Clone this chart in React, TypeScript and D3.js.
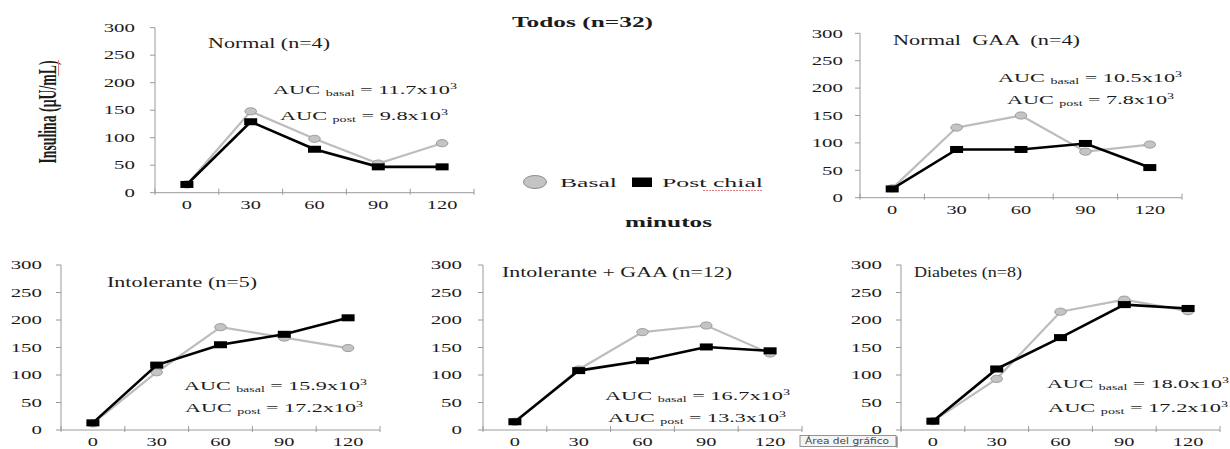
import React from "react";
import * as d3 from "d3";

// ---- data ----
const times = [0, 30, 60, 90, 120];
const yTicks = [0, 50, 100, 150, 200, 250, 300];

const normalBasal = [15, 148, 98, 53, 90];
const normalPost = [15, 129, 79, 47, 47];
const normalGaaBasal = [17, 128, 150, 84, 97];
const normalGaaPost = [16, 88, 88, 99, 55];
const intolBasal = [12, 105, 187, 168, 149];
const intolPost = [13, 118, 155, 174, 204];
const intolGaaBasal = [15, 110, 178, 190, 139];
const intolGaaPost = [15, 108, 126, 151, 144];
const diabBasal = [16, 93, 215, 237, 216];
const diabPost = [16, 111, 168, 228, 221];

const panelTitles = [
  "Normal (n=4)",
  "Normal  GAA  (n=4)",
  "Intolerante (n=5)",
  "Intolerante + GAA (n=12)",
  "Diabetes (n=8)",
];
const aucBasal = ["11.7", "10.5", "15.9", "16.7", "18.0"];
const aucPost = ["9.8", "7.8", "17.2", "13.3", "17.2"];
const basalSeries = [normalBasal, normalGaaBasal, intolBasal, intolGaaBasal, diabBasal];
const postSeries = [normalPost, normalGaaPost, intolPost, intolGaaPost, diabPost];

// ---- layout ----
const layouts = [
  { x0: 155, x1: 474, yTop: 27.7, yBot: 192.7, gap: 20, title: [208, 122, 47.5], ab: [273, 184, 94], ap: [280, 168, 119.5] },
  { x0: 860, x1: 1182, yTop: 33.3, yBot: 197.7, gap: 17, title: [893, 187, 45], ab: [998, 184, 81.5], ap: [1007, 167, 104] },
  { x0: 61, x1: 380, yTop: 265, yBot: 430, gap: 19, title: [107, 150, 287], ab: [184, 183, 390], ap: [185, 178, 411.5] },
  { x0: 483, x1: 802, yTop: 265, yBot: 430, gap: 21, title: [502, 230, 276.5], ab: [605, 185, 400], ap: [608, 178, 421.5] },
  { x0: 901, x1: 1220, yTop: 265, yBot: 430, gap: 19, title: [914, 108, 276.5], ab: [1047, 182, 388], ap: [1048, 180, 411.5] },
];

const FONT = "'Liberation Serif', 'Times New Roman', serif";
const TXT = "#1c1c1c";
const AXIS = "#9a9a9a";
const SX = 1.7;

function Stretch({ x, y, anchor, size, children, weight }: any) {
  return (
    <g transform={`translate(${x},${y}) scale(${SX},1)`}>
      <text textAnchor={anchor} fontSize={size} fontFamily={FONT} fill={TXT} fontWeight={weight || "normal"}>
        {children}
      </text>
    </g>
  );
}

function Auc({ spec, kind, value }: any) {
  const [x, w, y] = spec;
  return (
    <text x={x} y={y} textLength={w} lengthAdjust="spacingAndGlyphs" fontSize={13.5} fontFamily={FONT} fill={TXT}>
      AUC{" "}
      <tspan fontSize={8.5} dy={2}>{kind}</tspan>
      <tspan dy={-2}>{` = ${value}x10`}</tspan>
      <tspan fontSize={8.5} dy={-5}>3</tspan>
    </text>
  );
}

function Panel({ i }: { i: number }) {
  const L = layouts[i];
  const x = d3.scaleBand<number>().domain(times).range([L.x0, L.x1]).padding(0);
  const y = d3.scaleLinear().domain([0, 300]).range([L.yBot, L.yTop]);
  const cx = (t: number) => (x(t) as number) + x.bandwidth() / 2;
  const line = d3
    .line<number>()
    .x((_, k) => cx(times[k]))
    .y((v) => y(v));
  const basal = basalSeries[i];
  const post = postSeries[i];
  const bounds = [...times.map((t) => x(t) as number), L.x1];
  return (
    <g>
      {/* axes */}
      <line x1={L.x0} x2={L.x0} y1={y(0)} y2={y(300)} stroke={AXIS} strokeWidth={1} />
      <line x1={L.x0} x2={L.x1} y1={y(0)} y2={y(0)} stroke={AXIS} strokeWidth={1} />
      {yTicks.map((t) => (
        <g key={"yt" + t}>
          <line x1={L.x0 - 5} x2={L.x0} y1={y(t)} y2={y(t)} stroke={AXIS} />
          <Stretch x={L.x0 - L.gap} y={y(t) + 4.2} anchor="end" size={12.3}>
            {t}
          </Stretch>
        </g>
      ))}
      {bounds.map((b, k) => (
        <line key={"xt" + k} x1={b} x2={b} y1={y(0) - 4} y2={y(0) + 2} stroke={AXIS} />
      ))}
      {times.map((t) => (
        <Stretch key={"xl" + t} x={cx(t)} y={y(0) + 16.4} anchor="middle" size={12}>
          {t}
        </Stretch>
      ))}
      {/* basal */}
      <path d={line(basal) || ""} fill="none" stroke="#bdbdbd" strokeWidth={2.2} />
      {basal.map((v, k) => (
        <ellipse key={"b" + k} cx={cx(times[k])} cy={y(v)} rx={5.8} ry={3.6} fill="#c4c4c4" stroke="#8c8c8c" strokeWidth={0.8} />
      ))}
      {/* post */}
      <path d={line(post) || ""} fill="none" stroke="#000" strokeWidth={2.6} />
      {post.map((v, k) => (
        <rect key={"p" + k} x={cx(times[k]) - 6.5} y={y(v) - 3.5} width={13} height={7} fill="#000" />
      ))}
      {/* texts */}
      <text x={L.title[0]} y={L.title[2]} textLength={L.title[1]} lengthAdjust="spacingAndGlyphs" fontSize={14} fontFamily={FONT} fill={TXT} style={{ whiteSpace: "pre" }}>
        {panelTitles[i]}
      </text>
      <Auc spec={L.ab} kind="basal" value={aucBasal[i]} />
      <Auc spec={L.ap} kind="post" value={aucPost[i]} />
    </g>
  );
}

export default function App() {
  return (
    <svg width={1230} height={449} style={{ position: "absolute", left: 0, top: 0, background: "#fff" }}>
      <rect x={0} y={0} width={1230} height={449} fill="#fff" />
      {layouts.map((_, i) => (
        <Panel key={i} i={i} />
      ))}
      {/* Y label */}
      <g transform="translate(56,112) scale(1.8,1) rotate(-90)">
        <text textAnchor="middle" fontSize={14} fontWeight="bold" fontFamily={FONT} fill={TXT} textLength={103} lengthAdjust="spacingAndGlyphs">
          Insulina (µU/mL)
        </text>
      </g>
      <line x1={58.5} x2={58.5} y1={60} y2={76} stroke="#e08080" strokeWidth={1} />
      {/* main title */}
      <text x={512} y={26.5} textLength={141} lengthAdjust="spacingAndGlyphs" fontSize={15} fontWeight="bold" fontFamily={FONT} fill={TXT}>
        Todos (n=32)
      </text>
      {/* legend */}
      <ellipse cx={535} cy={182} rx={11.5} ry={6.5} fill="#c4c4c4" stroke="#8c8c8c" strokeWidth={1} />
      <text x={560} y={186.5} textLength={57} lengthAdjust="spacingAndGlyphs" fontSize={13} fontFamily={FONT} fill={TXT}>
        Basal
      </text>
      <rect x={632} y={177.5} width={20} height={9.5} fill="#000" />
      <text x={662} y={186.5} textLength={101} lengthAdjust="spacingAndGlyphs" fontSize={13} fontFamily={FONT} fill={TXT}>
        Post chial
      </text>
      <line x1={703} x2={763} y1={190.5} y2={190.5} stroke="#e08080" strokeWidth={1} strokeDasharray="2,1" />
      {/* x title */}
      <text x={625} y={226.5} textLength={87} lengthAdjust="spacingAndGlyphs" fontSize={15} fontWeight="bold" fontFamily={FONT} fill={TXT}>
        minutos
      </text>
      {/* tooltip */}
      <rect x={800} y={435.5} width={96} height={11} fill="#f4f4f4" stroke="#7a7a7a" strokeWidth={0.8} />
      <line x1={897} x2={897} y1={436.5} y2={447.5} stroke="#555" strokeWidth={1} />
      <text x={805} y={444} textLength={84} lengthAdjust="spacingAndGlyphs" fontSize={8} fontFamily="'DejaVu Sans', sans-serif" fill="#444">
        Área del gráfico
      </text>
    </svg>
  );
}
